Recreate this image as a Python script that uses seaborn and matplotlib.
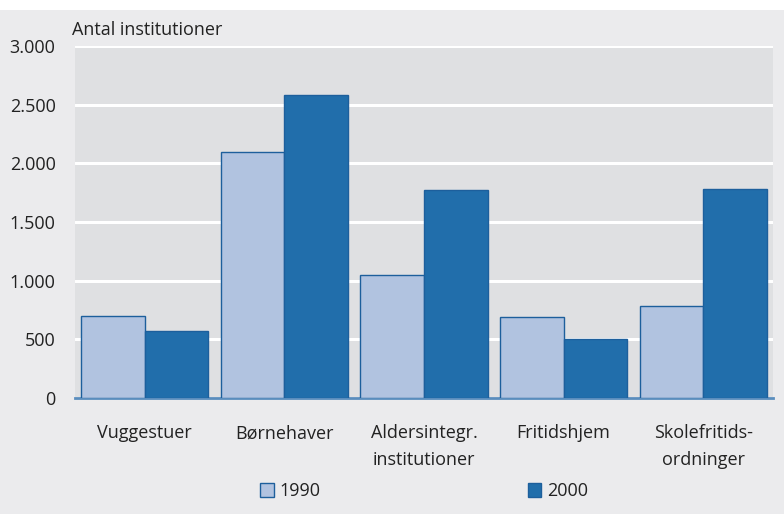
import pandas as pd
import seaborn as sns
import matplotlib.pyplot as plt
from matplotlib.patches import Rectangle

categories = ["Vuggestuer", "Børnehaver", "Aldersintegr.\ninstitutioner",
              "Fritidshjem", "Skolefritids-\nordninger"]
v1990 = [700, 2100, 1045, 690, 780]
v2000 = [570, 2580, 1775, 500, 1780]
years = ["1990", "2000"]

df = pd.DataFrame({
    "kategori": categories * 2,
    "aar": [years[0]] * 5 + [years[1]] * 5,
    "antal": v1990 + v2000,
})

sns.set_style("white")
plt.rcParams["font.family"] = ["Open Sans", "DejaVu Sans"]

fig = plt.figure(figsize=(7.84, 5.14), dpi=100, facecolor="white")
# grey panel below the thin white strip at the top
fig.patches.append(Rectangle((0, 0), 1, 1 - 10 / 514, transform=fig.transFigure,
                             facecolor="#ebebed", edgecolor="none", zorder=-10))
ax = fig.add_axes([75 / 784, 1 - 398 / 514, 698 / 784, 352 / 514])
ax.set_facecolor("#dfe0e2")

palette = {"1990": "#b1c3e0", "2000": "#216eab"}
sns.barplot(data=df, x="kategori", y="antal", hue="aar", palette=palette,
            width=0.91, gap=0, saturation=1, ax=ax, legend=True,
            edgecolor="#1d5f9c", linewidth=1, zorder=3)

ax.set_xlim(-0.5, 4.5)
ax.set_ylim(0, 3000)
ax.set_yticks([0, 500, 1000, 1500, 2000, 2500, 3000])
ax.set_yticklabels(["0", "500", "1.000", "1.500", "2.000", "2.500", "3.000"])
ax.yaxis.grid(True, color="white", linewidth=2.2, zorder=0)
ax.set_axisbelow(True)
ax.tick_params(axis="y", length=0, pad=14, labelsize=13, colors="#222222")
ax.tick_params(axis="x", length=0, pad=19, labelsize=13, colors="#222222")
for lbl in ax.get_xticklabels():
    lbl.set_linespacing(1.6)
ax.set_xlabel("")
ax.set_ylabel("")
for s in ["top", "right", "left"]:
    ax.spines[s].set_visible(False)
ax.spines["bottom"].set_color("#5a8dbd")
ax.spines["bottom"].set_linewidth(2)

fig.text(72 / 784, 1 - 30 / 514, "Antal institutioner", fontsize=13,
         color="#222222", va="center", ha="left")

ax.legend(title=None, loc="center", bbox_to_anchor=(0.5, -0.265), ncol=2,
          frameon=False, fontsize=13, handlelength=0.75, handleheight=0.75,
          handletextpad=0.3, columnspacing=11.5, labelcolor="#222222")

fig.savefig("out.png", dpi=100, facecolor=fig.get_facecolor())
